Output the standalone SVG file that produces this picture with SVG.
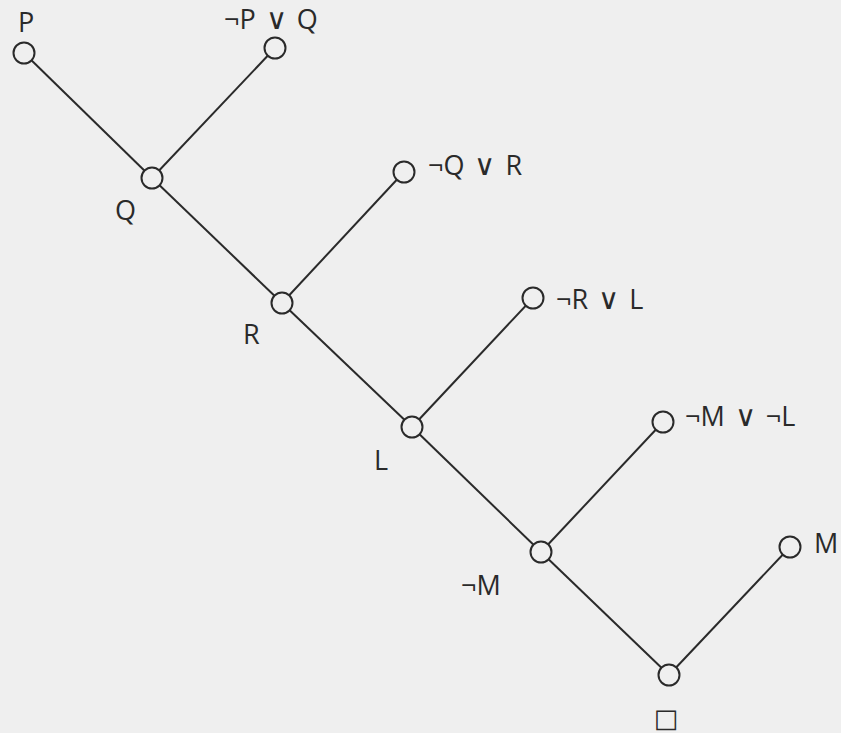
<svg xmlns="http://www.w3.org/2000/svg" width="841" height="733" viewBox="0 0 841 733">
<style>
.n{fill:#efefef;stroke:#2a2a2a;stroke-width:2}
.e{stroke:#2a2a2a;stroke-width:2;fill:none}
text{font-family:"Open Sans","Liberation Sans",sans-serif;font-size:27px;fill:#2a2a2a;word-spacing:3px}
.v{font-family:"DejaVu Sans Light","DejaVu Sans ExtraLight","DejaVu Sans",sans-serif;font-weight:200;font-size:29px}
</style>
<rect width="841" height="733" fill="#efefef"/>
<g id="edges">
<line class="e" x1="24" y1="53" x2="152" y2="178"/>
<line class="e" x1="275" y1="48" x2="152" y2="178"/>
<line class="e" x1="152" y1="178" x2="282" y2="303"/>
<line class="e" x1="404" y1="172" x2="282" y2="303"/>
<line class="e" x1="282" y1="303" x2="412" y2="427"/>
<line class="e" x1="533" y1="298" x2="412" y2="427"/>
<line class="e" x1="412" y1="427" x2="541" y2="552"/>
<line class="e" x1="663" y1="422" x2="541" y2="552"/>
<line class="e" x1="541" y1="552" x2="669" y2="675"/>
<line class="e" x1="790" y1="547" x2="669" y2="675"/>
</g>
<g id="nP"><circle class="n" cx="24" cy="53" r="10.5"/><text x="18" y="32">P</text></g>
<g id="nNPQ"><circle class="n" cx="275" cy="48" r="10.5"/><text x="224" y="29">¬P <tspan class="v">∨</tspan> Q</text></g>
<g id="nQ"><circle class="n" cx="152" cy="178" r="10.5"/><text x="115" y="220">Q</text></g>
<g id="nNQR"><circle class="n" cx="404" cy="172" r="10.5"/><text x="428" y="175">¬Q <tspan class="v">∨</tspan> R</text></g>
<g id="nR"><circle class="n" cx="282" cy="303" r="10.5"/><text x="243" y="344">R</text></g>
<g id="nNRL"><circle class="n" cx="533" cy="298" r="10.5"/><text x="556" y="309">¬R <tspan class="v">∨</tspan> L</text></g>
<g id="nL"><circle class="n" cx="412" cy="427" r="10.5"/><text x="374" y="470">L</text></g>
<g id="nNMNL"><circle class="n" cx="663" cy="422" r="10.5"/><text x="685" y="426">¬M <tspan class="v">∨</tspan> ¬L</text></g>
<g id="nNM"><circle class="n" cx="541" cy="552" r="10.5"/><text x="461" y="595">¬M</text></g>
<g id="nM"><circle class="n" cx="790" cy="547" r="10.5"/><text x="814" y="553">M</text></g>
<g id="nBox"><circle class="n" cx="669" cy="675" r="10.5"/><text x="666" y="727" text-anchor="middle" style="font-family:'DejaVu Sans',sans-serif;font-size:26px">□</text></g>
</svg>
